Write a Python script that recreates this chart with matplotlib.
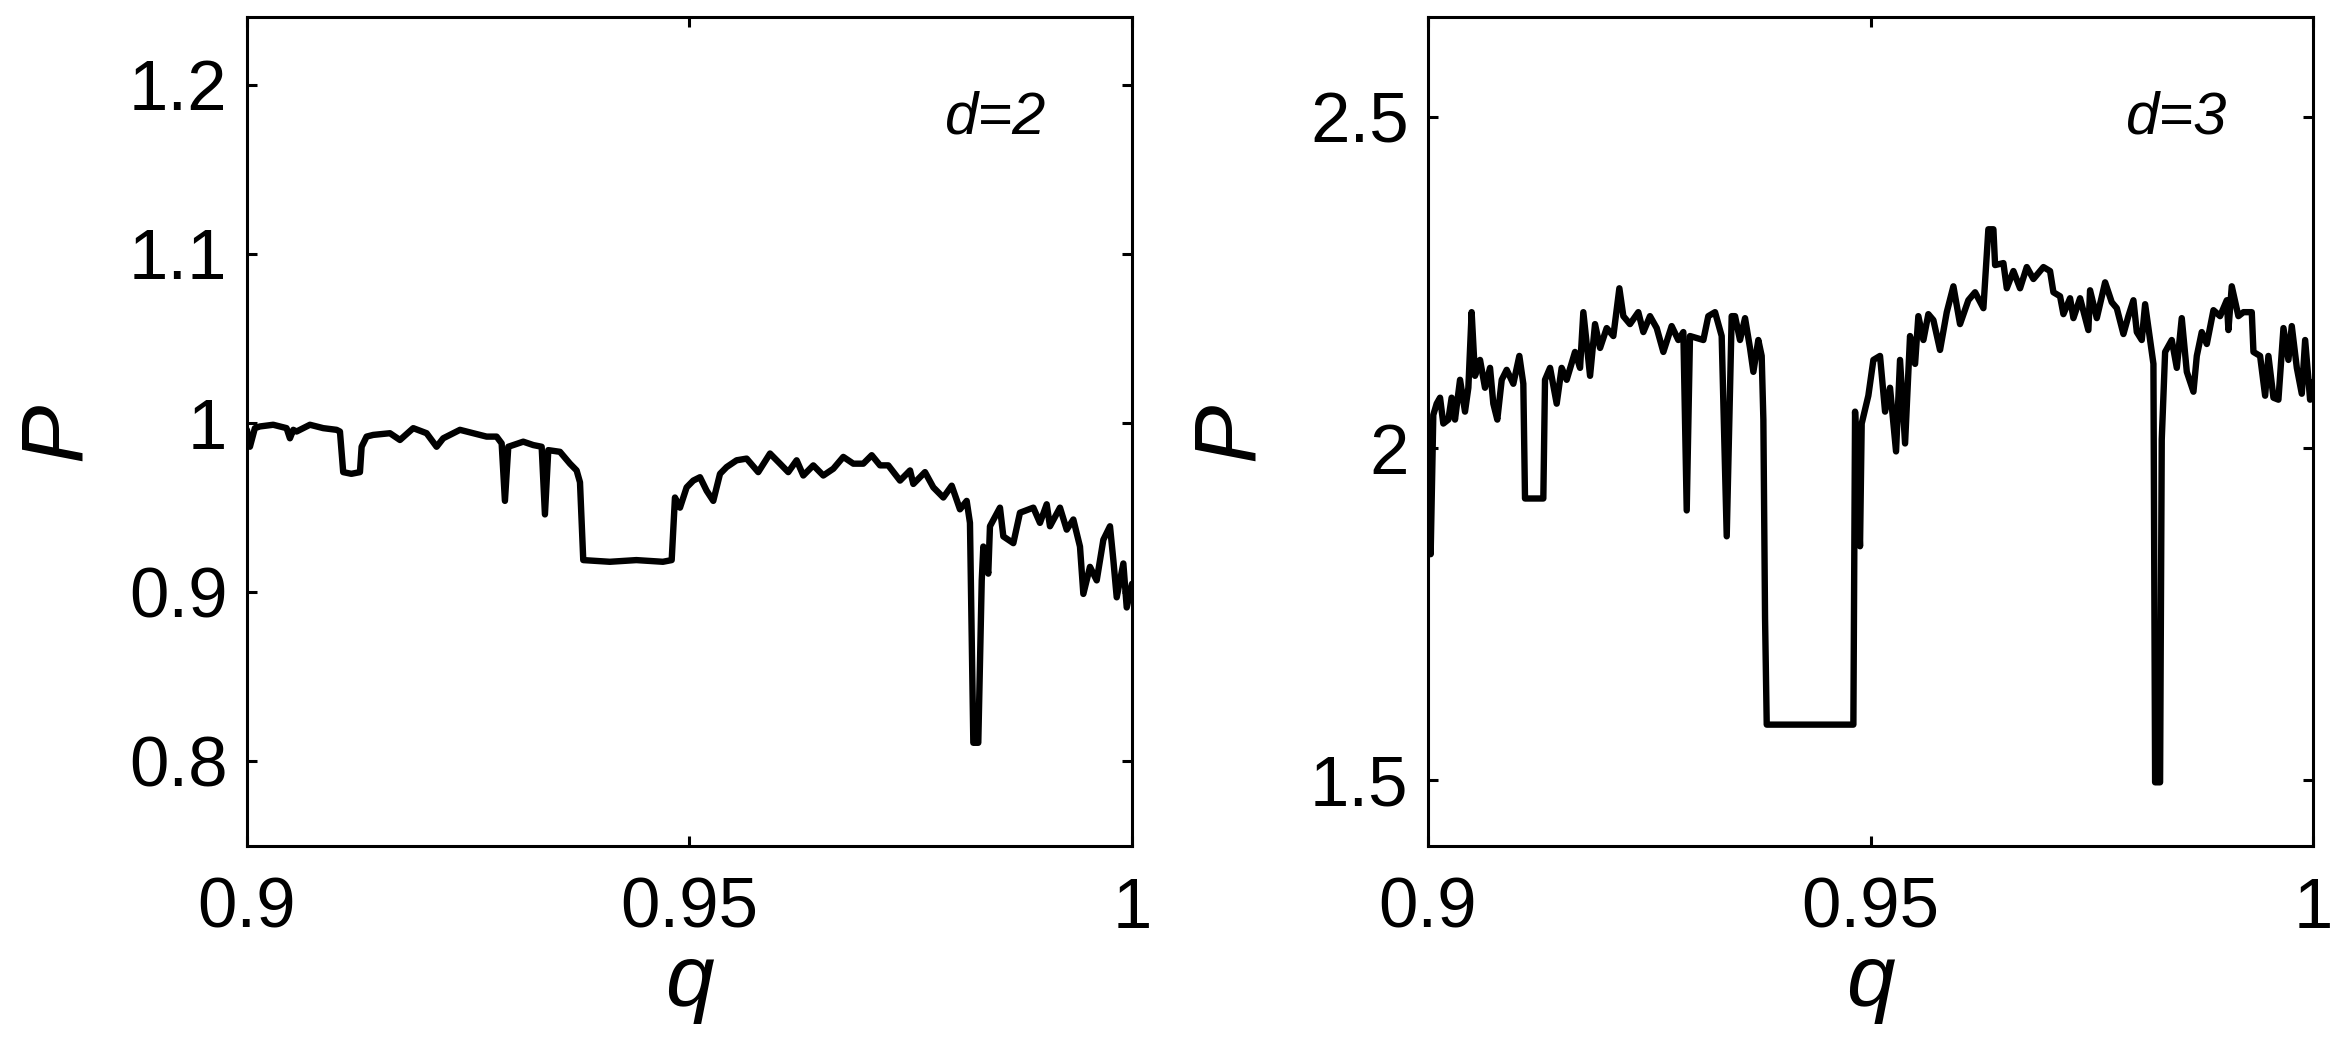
import matplotlib
matplotlib.use('Agg')
import matplotlib.pyplot as plt

plt.rcParams['font.family'] = ['Liberation Sans', 'DejaVu Sans']

# d=2 curve
q_d2 = [0.90000, 0.90034, 0.90090, 0.90147, 0.90297, 0.90448, 0.90486, 0.90524,
        0.90561, 0.90712, 0.90862, 0.91013, 0.91051, 0.91088, 0.91180, 0.91277,
        0.91296, 0.91352, 0.91427, 0.91616, 0.91729, 0.91879, 0.92030, 0.92143,
        0.92218, 0.92407, 0.92557, 0.92708, 0.92821, 0.92878, 0.92915, 0.92953,
        0.93122, 0.93235, 0.93330, 0.93367, 0.93405, 0.93537, 0.93650, 0.93725,
        0.93763, 0.93800, 0.94100, 0.94400, 0.94700, 0.94799, 0.94836, 0.94893,
        0.94968, 0.95043, 0.95119, 0.95194, 0.95269, 0.95345, 0.95420, 0.95533,
        0.95646, 0.95777, 0.95910, 0.96023, 0.96116, 0.96211, 0.96286, 0.96399,
        0.96512, 0.96625, 0.96738, 0.96851, 0.96964, 0.97059, 0.97153, 0.97246,
        0.97379, 0.97492, 0.97529, 0.97661, 0.97755, 0.97868, 0.97963, 0.98056,
        0.98132, 0.98169, 0.98207, 0.98263, 0.98302, 0.98320, 0.98376, 0.98395,
        0.98508, 0.98546, 0.98659, 0.98734, 0.98885, 0.98960, 0.99036, 0.99073,
        0.99186, 0.99262, 0.99337, 0.99412, 0.99450, 0.99525, 0.99601, 0.99676,
        0.99751, 0.99789, 0.99827, 0.99902, 0.99940, 1.00000]
P_d2 = [0.996, 0.986, 0.997, 0.998, 0.999, 0.997, 0.991, 0.996,
        0.995, 0.999, 0.997, 0.996, 0.995, 0.971, 0.970, 0.971,
        0.986, 0.992, 0.993, 0.994, 0.990, 0.997, 0.994, 0.986,
        0.991, 0.996, 0.994, 0.992, 0.992, 0.988, 0.954, 0.986,
        0.989, 0.987, 0.986, 0.946, 0.984, 0.983, 0.976, 0.972,
        0.965, 0.919, 0.918, 0.919, 0.918, 0.919, 0.956, 0.950,
        0.962, 0.966, 0.968, 0.960, 0.954, 0.970, 0.974, 0.978,
        0.979, 0.971, 0.982, 0.976, 0.971, 0.978, 0.969, 0.975,
        0.969, 0.973, 0.980, 0.976, 0.976, 0.981, 0.975, 0.975,
        0.966, 0.972, 0.964, 0.971, 0.962, 0.956, 0.963, 0.949,
        0.954, 0.941, 0.811, 0.811, 0.907, 0.927, 0.911, 0.939,
        0.950, 0.933, 0.929, 0.947, 0.950, 0.941, 0.952, 0.939,
        0.950, 0.937, 0.943, 0.927, 0.899, 0.915, 0.907, 0.931,
        0.939, 0.919, 0.897, 0.917, 0.891, 0.905]

# d=3 curve
q_d3 = [0.90000, 0.90030, 0.90060, 0.90098, 0.90136, 0.90173, 0.90230, 0.90267,
        0.90305, 0.90362, 0.90418, 0.90456, 0.90493, 0.90531, 0.90588, 0.90644,
        0.90701, 0.90738, 0.90783, 0.90833, 0.90889, 0.90964, 0.91032, 0.91077,
        0.91096, 0.91303, 0.91322, 0.91379, 0.91454, 0.91510, 0.91567, 0.91661,
        0.91718, 0.91755, 0.91831, 0.91887, 0.91944, 0.92019, 0.92094, 0.92162,
        0.92207, 0.92282, 0.92376, 0.92433, 0.92508, 0.92584, 0.92659, 0.92753,
        0.92828, 0.92885, 0.92923, 0.92960, 0.93111, 0.93167, 0.93243, 0.93318,
        0.93375, 0.93431, 0.93469, 0.93525, 0.93582, 0.93638, 0.93676, 0.93732,
        0.93770, 0.93789, 0.93808, 0.93827, 0.94806, 0.94825, 0.94881, 0.94900,
        0.94975, 0.95032, 0.95107, 0.95164, 0.95220, 0.95288, 0.95333, 0.95390,
        0.95446, 0.95503, 0.95540, 0.95597, 0.95653, 0.95710, 0.95785, 0.95861,
        0.95936, 0.96011, 0.96105, 0.96181, 0.96275, 0.96331, 0.96388, 0.96407,
        0.96501, 0.96539, 0.96614, 0.96689, 0.96765, 0.96840, 0.96953, 0.97028,
        0.97066, 0.97141, 0.97179, 0.97254, 0.97292, 0.97367, 0.97461, 0.97480,
        0.97556, 0.97650, 0.97725, 0.97782, 0.97857, 0.97913, 0.97970, 0.98008,
        0.98064, 0.98102, 0.98158, 0.98196, 0.98215, 0.98271, 0.98290, 0.98328,
        0.98403, 0.98460, 0.98516, 0.98573, 0.98648, 0.98686, 0.98742, 0.98799,
        0.98874, 0.98949, 0.99025, 0.99043, 0.99081, 0.99156, 0.99213, 0.99307,
        0.99326, 0.99401, 0.99458, 0.99495, 0.99552, 0.99608, 0.99665, 0.99721,
        0.99759, 0.99816, 0.99872, 0.99910, 0.99966, 1.00000]
P_d3 = [2.030, 1.840, 2.050, 2.067, 2.076, 2.037, 2.043, 2.076,
        2.043, 2.103, 2.055, 2.091, 2.205, 2.109, 2.133, 2.091,
        2.121, 2.067, 2.043, 2.103, 2.118, 2.097, 2.139, 2.097,
        1.924, 1.924, 2.103, 2.121, 2.067, 2.121, 2.103, 2.145,
        2.121, 2.205, 2.109, 2.187, 2.151, 2.181, 2.169, 2.241,
        2.199, 2.187, 2.205, 2.175, 2.199, 2.181, 2.145, 2.184,
        2.163, 2.175, 1.906, 2.169, 2.163, 2.199, 2.205, 2.169,
        1.867, 2.199, 2.199, 2.163, 2.196, 2.151, 2.115, 2.163,
        2.139, 2.043, 1.744, 1.583, 1.583, 2.055, 1.852, 2.037,
        2.079, 2.133, 2.139, 2.055, 2.091, 1.995, 2.133, 2.007,
        2.169, 2.127, 2.199, 2.163, 2.202, 2.193, 2.148, 2.205,
        2.244, 2.187, 2.223, 2.235, 2.211, 2.330, 2.330, 2.276,
        2.279, 2.241, 2.267, 2.241, 2.273, 2.255, 2.273, 2.267,
        2.235, 2.229, 2.202, 2.226, 2.196, 2.226, 2.178, 2.238,
        2.196, 2.250, 2.220, 2.211, 2.172, 2.199, 2.223, 2.175,
        2.163, 2.217, 2.163, 2.127, 1.496, 1.496, 2.013, 2.145,
        2.163, 2.121, 2.196, 2.115, 2.085, 2.139, 2.175, 2.157,
        2.208, 2.199, 2.223, 2.178, 2.244, 2.199, 2.205, 2.205,
        2.145, 2.139, 2.079, 2.139, 2.076, 2.073, 2.181, 2.133,
        2.184, 2.121, 2.082, 2.163, 2.073, 2.100]

x_ticks = [0.9, 0.95, 1.0]
x_ticklabels = ['0.9', '0.95', '1']
y_ticks_d2 = [0.8, 0.9, 1.0, 1.1, 1.2]
y_ticklabels_d2 = ['0.8', '0.9', '1', '1.1', '1.2']
y_ticks_d3 = [1.5, 2.0, 2.5]
y_ticklabels_d3 = ['1.5', '2', '2.5']

fig = plt.figure(figsize=(23.36, 10.6), dpi=100)
ax1 = fig.add_axes([0.1057, 0.2019, 0.3789, 0.782])
ax2 = fig.add_axes([0.6113, 0.2019, 0.3789, 0.782])

paneles = [
    (ax1, q_d2, P_d2, (0.75, 1.24), y_ticks_d2, y_ticklabels_d2, 'd=2', -0.168),
    (ax2, q_d3, P_d3, (1.4, 2.65), y_ticks_d3, y_ticklabels_d3, 'd=3', -0.178),
]

for ax, q, P, ylim, yt, ytl, etiqueta, xlab in paneles:
    ax.plot(q, P, color='black', lw=4.6, solid_joinstyle='round',
            solid_capstyle='round')
    ax.set_xlim(0.9, 1.0)
    ax.set_ylim(*ylim)
    ax.set_xticks(x_ticks)
    ax.set_xticklabels(x_ticklabels)
    ax.set_yticks(yt)
    ax.set_yticklabels(ytl)
    ax.tick_params(direction='in', length=7, width=2.2, labelsize=51,
                   top=True, right=True, pad=14)
    ax.tick_params(axis='x', pad=22)
    for s in ax.spines.values():
        s.set_linewidth(2.2)
    ax.set_xlabel('q', fontsize=63, style='italic')
    ax.set_ylabel('P', fontsize=63, style='italic')
    ax.xaxis.set_label_coords(0.5, -0.117)
    ax.yaxis.set_label_coords(xlab, 0.5)
    ax.text(0.846, 0.878, etiqueta, transform=ax.transAxes, fontsize=43,
            style='italic', ha='center', va='center')

plt.savefig('out.png', dpi=100)
